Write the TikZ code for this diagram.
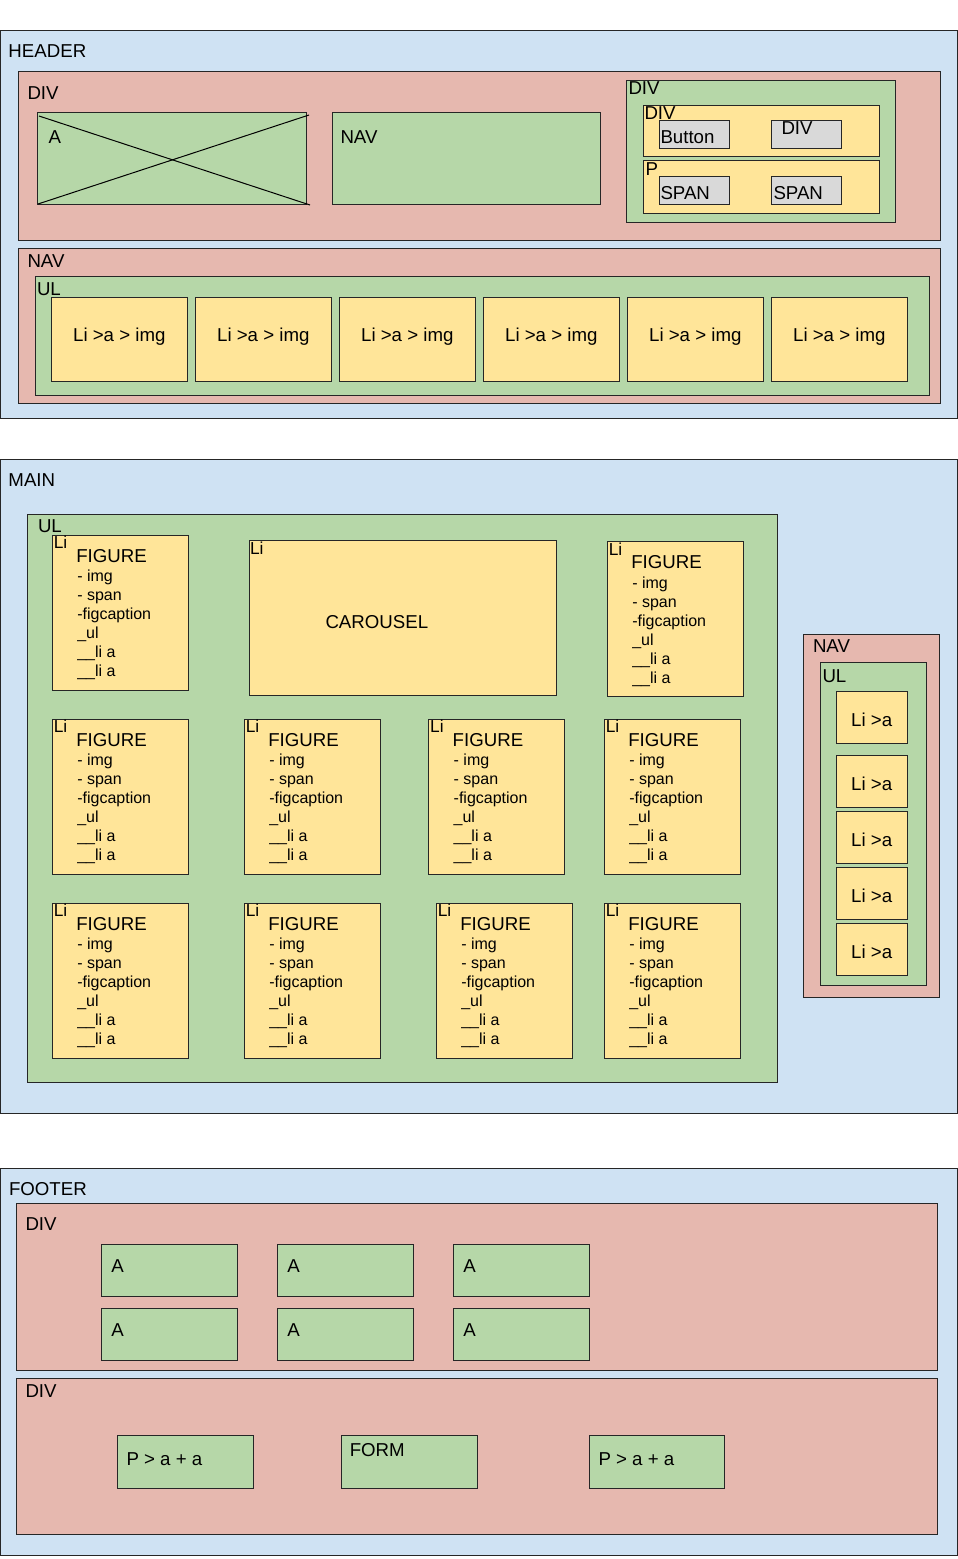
\documentclass[tikz,border=0pt]{standalone}
\usepackage{fontspec}
\setmainfont{Liberation Sans}
\definecolor{pageblue}{HTML}{CFE2F3}
\definecolor{divred}{HTML}{E6B8AF}
\definecolor{listgreen}{HTML}{B6D7A8}
\definecolor{itemyellow}{HTML}{FFE599}
\definecolor{leafgray}{HTML}{D9D9D9}
\begin{document}
\begin{tikzpicture}[x=0.75pt, y=-0.75pt, line width=0.75pt,
    htmlbox/.style={draw=black!85},
    blue box/.style={htmlbox, fill=pageblue},
    red box/.style={htmlbox, fill=divred},
    green box/.style={htmlbox, fill=listgreen},
    yellow box/.style={htmlbox, fill=itemyellow},
    gray box/.style={htmlbox, fill=leafgray},
    tag/.style={anchor=base west, inner sep=0pt, font=\fontsize{14}{16}\selectfont},
    mid tag/.style={tag, anchor=base},
    li tag/.style={tag, font=\fontsize{13}{15}\selectfont},
    sub tag/.style={tag, font=\fontsize{12}{14}\selectfont}]
    \useasboundingbox (0,0) rectangle (957,1559);

    % header
    \draw[blue box] (0,31) rectangle (957,418);
    \node[tag] (header) at (8,58) {HEADER};
    \draw[red box] (18,72) rectangle (940,240);
    \node[tag] (hdiv) at (27,100) {DIV};
    \draw[green box] (37,113) rectangle (306,204);
    \draw (39,116) -- (310,205);
    \draw (38,204) -- (309,115);
    \node[tag] (logo) at (48,143.3) {A};
    \draw[green box] (332,113) rectangle (600,204);
    \node[tag] (hnav) at (340,143.5) {NAV};
    \draw[green box] (626,80.7) rectangle (895,222);
    \node[tag] (tooldiv) at (628,94.3) {DIV};
    \draw[yellow box] (643,105.3) rectangle (879,157);
    \node[tag] (btndiv) at (644,119.3) {DIV};
    \draw[gray box] (659,120.3) rectangle (729.5,148.3);
    \node[tag] (button) at (660,143.3) {Button};
    \draw[gray box] (771.3,120.3) rectangle (841.3,148.3);
    \node[tag] (graydiv) at (781,135) {DIV};
    \draw[yellow box] (643,160.3) rectangle (879,213);
    \node[tag] (para) at (645,175.7) {P};
    \draw[gray box] (659,176.3) rectangle (729.5,204.3);
    \node[tag] (span1) at (660,199.3) {SPAN};
    \draw[gray box] (771.3,176.3) rectangle (841.3,204.3);
    \node[tag] (span2) at (773,199.3) {SPAN};

    \draw[red box] (18,248.3) rectangle (940,403.3);
    \node[tag] (mnav) at (27,267.3) {NAV};
    \draw[green box] (35.7,276.7) rectangle (929,395.3);
    \node[tag] (mul) at (36.5,295) {UL};
\foreach \k in {0,...,5}{
    \draw[yellow box] (51+144*\k,297.3) rectangle ++(136.5,84);
    \node[mid tag] (navli\k) at (119.3+144*\k,341.7) {Li >a > img};}

    % main
    \draw[blue box] (0,459) rectangle (957,1113);
    \node[tag] (main) at (8,486) {MAIN};
    \draw[green box] (27.7,514) rectangle (777.3,1082.7);
    \node[tag] (cul) at (37.5,532.7) {UL};
\foreach \cx/\cy [count=\i] in {52.3/535.3, 607.3/541.7, 52.3/719.3, 244.3/719.3, 428.7/719.3, 604.3/719.3, 52.3/903.3, 244.3/903.3, 436.3/903.3, 604.3/903.3}{
    \draw[yellow box] (\cx,\cy) rectangle ++(136,155);
    \node[li tag] (cardli\i) at (\cx+1,\cy+13.5) {Li};
    \node[tag] (fig\i) at (\cx+23.5,\cy+26.8) {FIGURE};
    \foreach \t [count=\k from 0] in {- img, - span, -figcaption, \_ul, \_\_li a, \_\_li a}{
        \node[sub tag] (fig\i-\k) at (\cx+24.5,\cy+46.3+19*\k) {\t};}}
    \draw[yellow box] (249,540.7) rectangle (556.3,695);
    \node[li tag] (carli) at (249.5,554) {Li};
    \node[tag] (carousel) at (325,628.3) {CAROUSEL};

    \draw[red box] (803.3,634) rectangle (939.3,997);
    \node[tag] (snav) at (812.5,652.7) {NAV};
    \draw[green box] (820.3,662) rectangle (926,985);
    \node[tag] (sul) at (822,682) {UL};
\foreach \ty [count=\i] in {691.7, 755.7, 811.7, 867.7, 923.7}{
    \draw[yellow box] (836,\ty) rectangle ++(71.3,51.6);
    \node[mid tag] (sideli\i) at (871.7,\ty+34.3) {Li >a};}

    % footer
    \draw[blue box] (0,1168.3) rectangle (957,1555);
    \node[tag] (footer) at (8.5,1195) {FOOTER};
    \draw[red box] (16.7,1203.3) rectangle (937.4,1370);
    \node[tag] (fdiv1) at (25,1230) {DIV};
\foreach \ax in {101.3, 277.3, 453.3}{
    \foreach \ay [count=\j] in {1244.3, 1308.3}{
        \draw[green box] (\ax,\ay) rectangle ++(136,51.7);
        \node[tag] (link\ax-\j) at (\ax+9.5,\ay+28.4) {A};}}
    \draw[red box] (16.7,1378) rectangle (937.4,1534.3);
    \node[tag] (fdiv2) at (25,1397.3) {DIV};
    \draw[green box] (117.3,1435.3) rectangle (253.3,1488.3);
    \node[tag] (pa1) at (126,1465) {P > a + a};
    \draw[green box] (341.3,1435.3) rectangle (477.3,1488.3);
    \node[tag] (form) at (349.3,1456.7) {FORM};
    \draw[green box] (589.3,1435.3) rectangle (724.3,1488.3);
    \node[tag] (pa2) at (598,1465) {P > a + a};
\end{tikzpicture}
\end{document}
